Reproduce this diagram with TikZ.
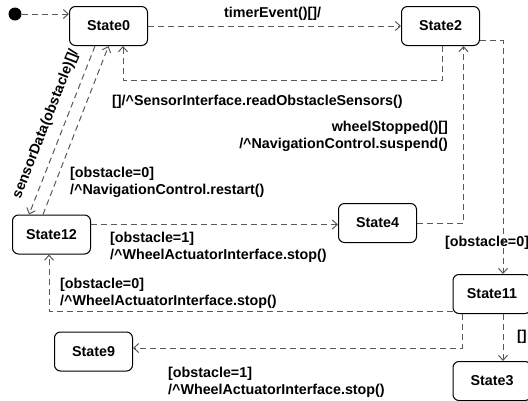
\documentclass[tikz,border=0pt]{standalone}
\usepackage{fontspec}
\setmainfont{Liberation Sans}
\usetikzlibrary{arrows.meta,positioning}

\begin{document}
\begin{tikzpicture}[x=1pt, y=-1pt, >={Straight Barb[length=5pt,width=9pt]},
  font=\bfseries\fontsize{14.3}{17}\selectfont,
  box/.style={draw, rounded corners=6pt, line width=1pt, minimum width=78pt, minimum height=39pt, inner sep=0pt, fill=white},
  tr/.style={->, dash pattern=on 6pt off 4pt, draw=black!65, line width=1pt},
  lbl/.style={inner sep=0pt, align=left, anchor=base west}]
\useasboundingbox (0,0) rectangle (528,400);
\node[box] (s0) at (108.5,26) {State0};
\node[box, right=253pt of s0] (s2) {State2};
\node[box] (s12) at (51.5,234.5) {State12};
\node[box] (s4) at (377.5,223) {State4};
\node[box] (s11) at (492,294) {State11};
\node[box, below=47pt of s11] (s3) {State3};
\node[box] (s9) at (93.5,351.5) {State9};
\node[circle, fill, inner sep=0pt, minimum size=13pt] (init) at (15,14) {};
\node[lbl] (tm) at (224,17) {timerEvent()[]/};
\node[lbl] (rs) at (112,105) {[]/\textasciicircum SensorInterface.readObstacleSensors()};
\node[lbl, align=right, anchor=base east] (ws) at (448,148) {wheelStopped()[]\\/\textasciicircum NavigationControl.suspend()};
\node[lbl] (rt) at (70,194) {[obstacle=0]\\/\textasciicircum NavigationControl.restart()};
\node[lbl] (w1) at (110,259) {[obstacle=1]\\/\textasciicircum WheelActuatorInterface.stop()};
\node[lbl] (w0) at (60,305) {[obstacle=0]\\/\textasciicircum WheelActuatorInterface.stop()};
\node[lbl] (w9) at (168,394) {[obstacle=1]\\/\textasciicircum WheelActuatorInterface.stop()};
\node[lbl] (o0) at (445,246) {[obstacle=0]};
\node[lbl] (e3) at (517,340) {[]};
\draw[tr] (init) -- (init -| s0.west);
\draw[tr] (s0.east) -- (s2.west);
\draw[tr] ([xshift=2pt]s2.south) -- ++(0,34) -| ([xshift=14.5pt]s0.south);
\draw[tr] ([xshift=-13.5pt]s0.south) -- node[sloped, above=10pt, inner sep=0pt] (sd) {sensorData(obstacle)[]/} ([xshift=-22.5pt]s12.north);
\draw[tr] ([xshift=-8.5pt]s12.north) -- (s0.south);
\draw[tr] ([yshift=10pt]s12.east) -- ([yshift=10pt]s12.east -| s4.west);
\draw[tr] (s4.east) -| ([xshift=23pt]s2.south);
\draw[tr] ([yshift=-14.5pt]s2.east) -| ([xshift=11pt]s11.north);
\draw[tr] ([yshift=-17pt]s11.west) -| ([xshift=-2.5pt]s12.south);
\draw[tr] ([xshift=-30pt]s11.south) |- ([yshift=3.5pt]s9.east);
\draw[tr] ([xshift=11pt]s11.south) -- ([xshift=11pt]s11.south |- s3.north);
\end{tikzpicture}
\end{document}
